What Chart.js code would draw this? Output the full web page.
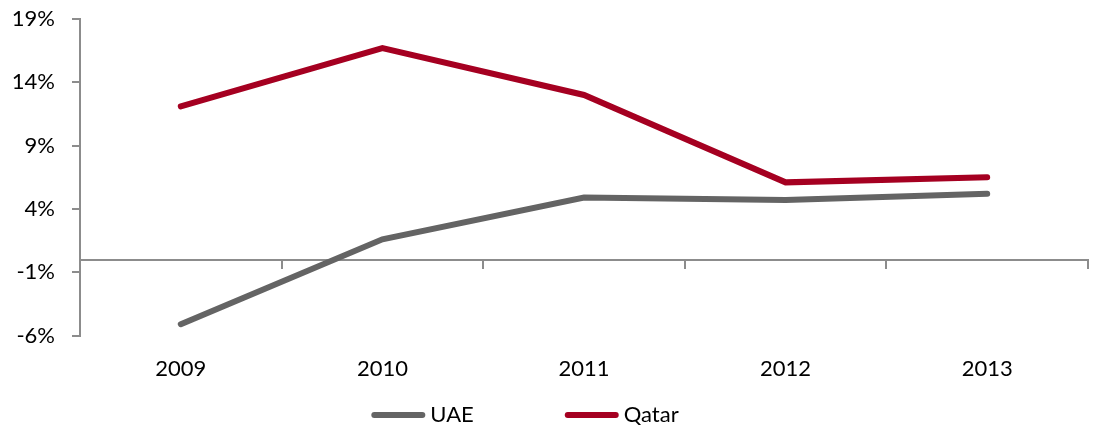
<!DOCTYPE html>
<html>
<head>
<meta charset="utf-8">
<script src="https://cdn.jsdelivr.net/npm/chart.js@4"></script>
<style>
  html, body { margin: 0; padding: 0; background: #fff; }
  #wrap { width: 1098px; height: 425px; }
</style>
</head>
<body>
<div id="wrap"><canvas id="chart"></canvas></div>
<script>
// Growth rates
const years = ['2009', '2010', '2011', '2012', '2013'];
const uae = [-5.1, 1.6, 4.9, 4.7, 5.2];
const qatar = [12.1, 16.7, 13.0, 6.1, 6.5];

const axisGray = '#8c8c8c';
const fontFamily = 'Lato, "Open Sans", sans-serif';

// Legend drawn by hand so the gap between items can be wide without
// the built-in legend growing tall
const lineLegend = {
    id: 'lineLegend',
    afterDraw(chart) {
        const c = chart.ctx;
        const y = 415;
        const lineLen = 54, textGap = 5, itemGap = 91;
        c.save();
        c.font = '22px ' + fontFamily;
        c.textBaseline = 'middle';
        const items = chart.data.datasets.map(ds => ({
            label: ds.label,
            color: ds.borderColor,
            w: lineLen + textGap + c.measureText(ds.label).width
        }));
        const total = items.reduce((s, it) => s + it.w, 0) + itemGap * (items.length - 1);
        let x = 525 - total / 2;
        items.forEach(it => {
            c.strokeStyle = it.color;
            c.lineWidth = 6;
            c.lineCap = 'round';
            c.beginPath();
            c.moveTo(x + 3, y);
            c.lineTo(x + lineLen - 3, y);
            c.stroke();
            c.fillStyle = '#000';
            c.fillText(it.label, x + lineLen + textGap, y);
            x += it.w + itemGap;
        });
        c.restore();
    }
};

const ctx = document.getElementById('chart').getContext('2d');
new Chart(ctx, {
    type: 'line',
    data: {
        labels: years,
        datasets: [
            {
                label: 'UAE',
                data: uae,
                borderColor: '#646464',
                borderWidth: 6,
                pointRadius: 0,
                borderCapStyle: 'round',
                tension: 0
            },
            {
                label: 'Qatar',
                data: qatar,
                borderColor: '#a50021',
                borderWidth: 6,
                pointRadius: 0,
                borderCapStyle: 'round',
                tension: 0
            }
        ]
    },
    plugins: [lineLegend],
    options: {
        responsive: true,
        maintainAspectRatio: false,
        animation: false,
        layout: { padding: { top: 19, right: 10, left: 0, bottom: 31 } },
        plugins: {
            tooltip: { enabled: false },
            legend: { display: false }
        },
        scales: {
            // the axis line drawn at 0 with ticks between categories
            x: {
                type: 'category',
                position: { y: 0 },
                offset: true,
                border: { display: true, color: axisGray, width: 2 },
                grid: { offset: true, drawOnChartArea: false, drawTicks: true, tickLength: 8, color: axisGray, lineWidth: 2 },
                ticks: { display: false }
            },
            // labels along the bottom
            xLabels: {
                type: 'category',
                labels: years,
                position: 'bottom',
                offset: true,
                border: { display: false },
                grid: { display: false },
                ticks: { color: '#000', padding: 12, font: { family: fontFamily, size: 22 } }
            },
            y: {
                min: -6,
                max: 19,
                border: { display: true, color: axisGray, width: 2 },
                grid: { drawOnChartArea: false, tickLength: 8, color: axisGray, lineWidth: 2 },
                ticks: {
                    stepSize: 5,
                    color: '#000',
                    padding: 17,
                    font: { family: fontFamily, size: 22 },
                    callback: v => v + '%'
                },
                afterFit: s => {
                    s.width = 80;
                    s.paddingTop = 12;
                    s.paddingBottom = 12;
                }
            }
        }
    }
});
</script>
</body>
</html>
